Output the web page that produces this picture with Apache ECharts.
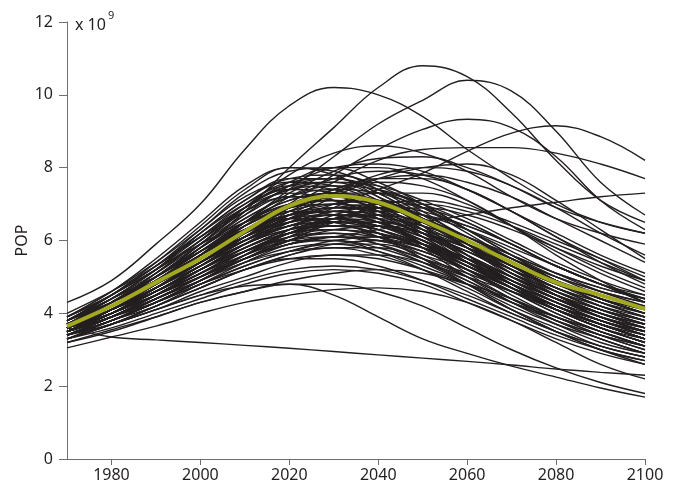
<!DOCTYPE html>
<html>
<head>
<meta charset="utf-8">
<script src="https://cdn.jsdelivr.net/npm/echarts@6/dist/echarts.min.js"></script>
<style>html,body{margin:0;padding:0;background:#fff}#c{width:676px;height:493px}</style>
</head>
<body>
<div id="c"></div>
<script>
const years = [1970,1980,1990,2000,2010,2020,2030,2040,2050,2060,2070,2080,2090,2100];
const xTicks = [1980,2000,2020,2040,2060,2080,2100];
const yTicks = [0,2,4,6,8,10,12];
const meanPop = [3.65,4.2,4.85,5.5,6.25,6.95,7.22,7.05,6.55,6.0,5.4,4.85,4.5,4.12];

const U1 = [3.8,4.3,4.9,5.8,6.8,8.0,9.1,10.2,10.8,10.5,9.5,8.2,7.1,6.5];
const U2 = [4.3,4.9,5.9,7.0,8.5,9.7,10.2,10.0,9.4,8.5,7.7,7.0,6.5,6.2];
const U3 = [3.7,4.2,4.8,5.6,6.5,7.4,8.3,9.2,9.85,10.4,10.1,9.0,7.6,6.7];
const U4 = [3.6,4.1,4.7,5.4,6.2,7.0,7.8,8.5,9.05,9.33,9.1,8.3,7.1,6.3];
const U5 = [3.4,3.8,4.3,4.9,5.6,6.3,6.9,7.4,7.85,8.45,8.95,9.15,8.85,8.2];
const U6 = [3.5,4.0,4.6,5.3,6.1,6.9,7.6,8.2,8.5,8.55,8.55,8.4,8.1,7.7];
const U7 = [3.6,4.0,4.5,5.0,5.5,5.9,6.1,6.3,6.5,6.7,6.9,7.05,7.2,7.3];
const U8 = [3.7,4.3,5.0,5.9,6.9,7.8,8.4,8.6,8.4,7.9,7.2,6.6,6.2,5.9];
const U9 = [3.6,4.1,4.8,5.6,6.5,7.3,7.9,8.25,8.3,8.0,7.5,6.9,6.5,6.2];
const U10 = [3.5,3.9,4.5,5.2,5.9,6.6,7.2,7.7,8.0,8.1,7.8,7.1,6.3,5.5];

const b1 = [3.8,4.5,5.4,6.4,7.4,8.0,7.9,7.4,6.7,5.9,5.1,4.5,4.0,3.6];
const b2 = [3.7,4.4,5.2,6.2,7.1,7.7,7.7,7.3,6.6,5.9,5.2,4.6,4.1,3.7];
const b3 = [3.9,4.6,5.4,6.3,7.2,7.6,7.5,7.0,6.3,5.5,4.8,4.2,3.7,3.3];
const b4 = [3.6,4.3,5.1,6.0,6.9,7.5,7.6,7.2,6.6,5.9,5.3,4.7,4.3,3.9];
const b5 = [3.7,4.3,5.1,6.0,6.9,7.4,7.3,6.8,6.1,5.4,4.7,4.1,3.6,3.2];
const b6 = [3.8,4.5,5.3,6.1,6.9,7.3,7.1,6.6,5.9,5.1,4.4,3.8,3.3,2.9];
const b7 = [3.6,4.2,5.0,5.9,6.8,7.4,7.6,7.5,7.1,6.6,6.0,5.4,4.9,4.5];
const b8 = [3.7,4.3,5.0,5.8,6.6,7.2,7.4,7.3,6.9,6.3,5.7,5.1,4.6,4.2];
const b9 = [3.5,4.1,4.8,5.6,6.5,7.1,7.3,7.0,6.5,5.8,5.1,4.5,4.0,3.6];
const b10 = [3.8,4.4,5.1,5.9,6.7,7.2,7.2,6.8,6.2,5.5,4.8,4.2,3.8,3.4];

const c1 = [3.6,4.1,4.8,5.5,6.2,6.7,6.9,6.8,6.5,6.0,5.5,5.0,4.6,4.3];
const c2 = [3.5,4.0,4.7,5.4,6.1,6.6,6.8,6.6,6.2,5.7,5.1,4.6,4.2,3.9];
const c3 = [3.7,4.2,4.8,5.5,6.1,6.5,6.6,6.4,6.0,5.5,4.9,4.4,3.9,3.5];
const c4 = [3.4,3.9,4.5,5.2,5.9,6.4,6.7,6.7,6.4,6.0,5.5,5.0,4.6,4.3];
const c5 = [3.6,4.2,4.9,5.6,6.3,6.7,6.8,6.5,6.0,5.3,4.7,4.1,3.6,3.2];
const c6 = [3.5,4.1,4.7,5.4,6.0,6.4,6.5,6.3,5.9,5.3,4.7,4.2,3.7,3.3];
const c7 = [3.7,4.3,4.9,5.6,6.3,6.8,7.0,6.9,6.6,6.1,5.6,5.1,4.7,4.4];
const c8 = [3.6,4.1,4.7,5.3,5.9,6.3,6.4,6.2,5.8,5.3,4.8,4.3,3.9,3.6];
const c9 = [3.5,4.0,4.6,5.3,6.0,6.5,6.7,6.6,6.2,5.7,5.1,4.6,4.1,3.7];
const c10 = [3.8,4.4,5.0,5.7,6.3,6.7,6.8,6.6,6.2,5.6,5.0,4.4,3.9,3.5];
const c11 = [3.4,3.9,4.5,5.1,5.8,6.3,6.6,6.7,6.5,6.1,5.6,5.1,4.7,4.4];
const c12 = [3.6,4.1,4.7,5.4,6.1,6.6,6.9,7.0,6.8,6.4,5.9,5.3,4.8,4.4];
const c13 = [3.5,4.0,4.6,5.2,5.8,6.2,6.3,6.1,5.7,5.2,4.6,4.1,3.7,3.4];
const c14 = [3.7,4.2,4.8,5.5,6.2,6.7,6.8,6.5,5.9,5.2,4.5,3.9,3.4,3.0];
const c15 = [3.6,4.2,4.9,5.7,6.4,6.9,7.1,7.0,6.6,6.0,5.3,4.7,4.2,3.8];
const c16 = [3.5,4.1,4.8,5.6,6.3,6.8,7.0,6.8,6.3,5.6,4.9,4.3,3.8,3.4];
const c17 = [3.7,4.3,5.0,5.8,6.5,7.0,7.1,6.9,6.4,5.8,5.1,4.5,4.0,3.7];
const c18 = [3.6,4.1,4.7,5.4,6.0,6.5,6.8,6.9,6.7,6.3,5.8,5.3,4.8,4.5];

const d1 = [3.5,3.9,4.4,5.0,5.6,6.2,6.7,7.0,7.1,6.9,6.5,6.0,5.5,5.0];
const d2 = [3.4,3.8,4.3,4.9,5.5,6.0,6.5,6.8,6.9,6.7,6.3,5.8,5.3,4.9];
const d3 = [3.6,4.0,4.6,5.2,5.9,6.5,7.0,7.3,7.3,7.0,6.4,5.8,5.2,4.7];
const d4 = [3.5,3.9,4.5,5.1,5.7,6.2,6.6,6.8,6.7,6.4,5.9,5.3,4.8,4.3];
const d5 = [3.7,4.2,4.8,5.5,6.2,6.9,7.4,7.7,7.7,7.4,6.8,6.1,5.4,4.8];
const d6 = [3.6,4.1,4.7,5.4,6.1,6.8,7.3,7.6,7.5,7.1,6.4,5.6,4.9,4.3];
const d7 = [3.5,4.0,4.6,5.3,6.0,6.7,7.3,7.8,8.0,7.9,7.5,6.9,6.2,5.6];
const d8 = [3.4,3.8,4.3,4.9,5.5,6.1,6.6,6.9,7.0,6.8,6.4,5.9,5.4,4.9];

const e1 = [3.4,3.8,4.3,4.8,5.3,5.7,5.9,5.9,5.6,5.2,4.7,4.2,3.8,3.4];
const e2 = [3.5,3.9,4.4,4.9,5.4,5.8,5.9,5.7,5.3,4.8,4.2,3.7,3.3,2.9];
const e3 = [3.3,3.7,4.2,4.7,5.2,5.6,5.8,5.8,5.5,5.1,4.6,4.1,3.7,3.3];
const e4 = [3.5,3.9,4.4,4.9,5.4,5.7,5.8,5.6,5.2,4.7,4.1,3.6,3.1,2.8];
const e5 = [3.4,3.8,4.2,4.7,5.2,5.5,5.6,5.5,5.2,4.8,4.3,3.9,3.5,3.1];
const e6 = [3.6,4.0,4.5,5.0,5.5,5.9,6.1,6.0,5.7,5.2,4.7,4.1,3.6,3.2];
const e7 = [3.3,3.7,4.1,4.6,5.0,5.4,5.6,5.6,5.4,5.0,4.6,4.2,3.8,3.5];
const e8 = [3.5,3.9,4.3,4.8,5.2,5.5,5.5,5.3,4.9,4.4,3.9,3.4,3.0,2.7];
const e9 = [3.4,3.8,4.3,4.8,5.3,5.7,6.0,6.1,5.9,5.5,5.0,4.5,4.0,3.6];
const e10 = [3.6,4.1,4.6,5.2,5.8,6.2,6.3,6.1,5.6,5.0,4.4,3.8,3.3,2.9];
const e11 = [3.4,3.9,4.4,5.0,5.6,6.0,6.2,6.1,5.8,5.3,4.8,4.3,3.8,3.4];
const e12 = [3.5,4.0,4.5,5.1,5.7,6.1,6.2,5.9,5.4,4.8,4.1,3.5,3.0,2.6];
const e13 = [3.3,3.7,4.2,4.7,5.2,5.6,5.9,6.0,5.8,5.4,4.9,4.4,4.0,3.7];
const e14 = [3.6,4.0,4.6,5.2,5.7,6.0,6.0,5.7,5.2,4.6,4.0,3.5,3.1,2.8];

const f1 = [3.05,3.35,3.65,4.0,4.3,4.5,4.65,4.7,4.6,4.3,3.8,3.2,2.6,2.2];
const f2 = [3.3,3.7,4.1,4.5,4.75,4.8,4.5,3.9,3.3,2.9,2.55,2.25,1.95,1.7];
const f3 = [3.2,3.55,3.9,4.3,4.6,4.8,4.8,4.6,4.2,3.6,3.0,2.5,2.1,1.8];
const g1 = [3.6,3.35,3.27,3.2,3.12,3.04,2.95,2.86,2.77,2.68,2.58,2.47,2.38,2.3];

const h1 = [3.9,4.5,5.2,5.9,6.5,6.8,6.7,6.2,5.5,4.8,4.1,3.5,3.0,2.7];
const h2 = [4.0,4.6,5.3,6.1,6.8,7.2,7.1,6.6,5.8,5.0,4.3,3.7,3.2,2.9];
const h3 = [3.8,4.4,5.0,5.7,6.3,6.6,6.5,6.1,5.5,4.9,4.3,3.8,3.4,3.1];
const h4 = [3.7,4.2,4.8,5.4,6.0,6.4,6.5,6.3,5.9,5.4,4.9,4.4,4.0,3.7];
const h5 = [3.5,4.0,4.5,5.1,5.7,6.2,6.5,6.6,6.4,6.0,5.4,4.9,4.4,4.0];
const h6 = [3.6,4.1,4.7,5.4,6.1,6.7,7.0,7.1,6.9,6.5,5.9,5.3,4.8,4.3];
const h7 = [3.8,4.3,4.9,5.5,6.1,6.5,6.6,6.4,5.9,5.3,4.7,4.1,3.6,3.2];
const h8 = [3.4,3.9,4.4,5.0,5.6,6.1,6.4,6.4,6.1,5.7,5.2,4.7,4.3,4.0];
const h9 = [3.7,4.2,4.9,5.7,6.5,7.1,7.3,7.1,6.6,5.9,5.2,4.5,3.9,3.5];
const h10 = [3.9,4.5,5.2,6.0,6.8,7.4,7.5,7.1,6.4,5.6,4.8,4.1,3.6,3.2];
const h11 = [3.6,4.0,4.6,5.2,5.8,6.3,6.5,6.4,6.0,5.5,5.0,4.5,4.1,3.8];
const h12 = [3.5,4.0,4.6,5.3,6.0,6.6,6.9,6.9,6.6,6.1,5.5,4.9,4.4,4.0];
const h13 = [3.7,4.3,5.0,5.8,6.6,7.2,7.5,7.4,7.0,6.3,5.6,4.9,4.3,3.9];
const h14 = [3.8,4.3,4.9,5.6,6.2,6.6,6.6,6.3,5.8,5.2,4.6,4.0,3.5,3.1];
const h15 = [3.6,4.2,4.9,5.7,6.4,6.9,7.0,6.7,6.1,5.4,4.7,4.1,3.7,3.3];

const i1 = [3.6,4.1,4.7,5.4,6.2,6.9,7.4,7.7,7.8,7.6,7.2,6.6,6.0,5.4];
const i2 = [3.7,4.3,5.0,5.8,6.7,7.5,8.0,8.1,7.9,7.4,6.8,6.2,5.6,5.1];

const j1 = [3.9,4.6,5.5,6.5,7.5,8.0,7.8,7.2,6.4,5.6,4.9,4.3,3.8,3.5];
const j2 = [3.8,4.5,5.3,6.3,7.3,7.9,8.0,7.6,7.0,6.3,5.6,5.0,4.5,4.1];
const j3 = [3.7,4.4,5.2,6.2,7.1,7.7,7.8,7.5,6.9,6.2,5.5,4.9,4.4,4.0];
const j4 = [3.9,4.5,5.3,6.2,7.0,7.5,7.4,6.9,6.2,5.4,4.7,4.1,3.6,3.3];
const j5 = [3.8,4.4,5.2,6.1,7.0,7.6,7.7,7.3,6.6,5.8,5.0,4.4,3.9,3.5];
const j6 = [3.6,4.2,5.0,5.9,6.9,7.6,8.0,8.0,7.7,7.1,6.4,5.7,5.1,4.6];
const j7 = [3.5,4.0,4.7,5.5,6.4,7.2,7.7,7.9,7.8,7.4,6.8,6.1,5.5,4.9];
const j8 = [3.7,4.3,5.1,6.0,6.9,7.5,7.7,7.4,6.8,6.0,5.3,4.6,4.1,3.7];
const j9 = [3.6,4.1,4.8,5.6,6.4,7.0,7.3,7.3,7.0,6.5,5.9,5.3,4.8,4.4];
const j10 = [3.5,4.0,4.7,5.5,6.3,6.9,7.2,7.1,6.7,6.1,5.5,4.9,4.4,4.0];

const k1 = [3.4,3.8,4.4,5.0,5.7,6.2,6.4,6.3,5.9,5.4,4.8,4.3,3.8,3.5];
const k2 = [3.5,3.9,4.5,5.1,5.7,6.1,6.3,6.2,5.9,5.4,4.9,4.4,4.0,3.6];
const k3 = [3.3,3.7,4.2,4.8,5.4,5.9,6.1,6.1,5.9,5.5,5.0,4.5,4.1,3.8];
const k4 = [3.6,4.1,4.6,5.2,5.8,6.3,6.5,6.5,6.2,5.8,5.3,4.8,4.4,4.1];
const k5 = [3.5,4.0,4.6,5.3,5.9,6.4,6.6,6.5,6.1,5.6,5.0,4.4,3.9,3.6];
const k6 = [3.4,3.9,4.5,5.1,5.7,6.2,6.5,6.5,6.3,5.9,5.4,4.9,4.5,4.2];
const k7 = [3.7,4.2,4.8,5.5,6.1,6.6,6.7,6.5,6.0,5.4,4.8,4.2,3.7,3.3];
const k8 = [3.6,4.1,4.7,5.3,5.9,6.3,6.4,6.2,5.8,5.2,4.6,4.0,3.5,3.1];
const k9 = [3.4,3.8,4.3,4.9,5.5,6.0,6.3,6.4,6.2,5.8,5.3,4.8,4.3,3.9];
const k10 = [3.5,4.0,4.5,5.1,5.6,6.0,6.1,5.9,5.5,5.0,4.4,3.9,3.4,3.0];
const k11 = [3.3,3.8,4.3,4.9,5.5,5.9,6.1,6.0,5.7,5.2,4.7,4.2,3.8,3.4];
const k12 = [3.6,4.1,4.7,5.4,6.1,6.6,6.8,6.7,6.3,5.8,5.2,4.7,4.2,3.8];
const k13 = [3.5,3.9,4.4,5.0,5.5,5.9,6.0,5.8,5.4,4.9,4.3,3.8,3.4,3.1];
const k14 = [3.4,3.9,4.5,5.2,5.9,6.4,6.6,6.4,6.0,5.4,4.8,4.2,3.7,3.3];
const k15 = [3.7,4.2,4.9,5.7,6.5,7.0,7.2,7.0,6.5,5.9,5.3,4.7,4.2,3.8];

const m1 = [3.3,3.6,4.0,4.4,4.8,5.1,5.2,5.1,4.8,4.3,3.8,3.3,2.9,2.6];
const m2 = [3.4,3.7,4.1,4.5,4.9,5.2,5.3,5.2,4.9,4.5,4.0,3.5,3.1,2.8];
const m3 = [3.2,3.5,3.9,4.3,4.6,4.9,5.1,5.2,5.1,4.8,4.4,3.9,3.5,3.1];

const runs = [U1,U2,U3,U4,U5,U6,U7,U8,U9,U10,
  b1,b2,b3,b4,b5,b6,b7,b8,b9,b10,
  c1,c2,c3,c4,c5,c6,c7,c8,c9,c10,c11,c12,c13,c14,c15,c16,c17,c18,
  d1,d2,d3,d4,d5,d6,d7,d8,
  e1,e2,e3,e4,e5,e6,e7,e8,e9,e10,e11,e12,e13,e14,
  f1,f2,f3,g1,
  h1,h2,h3,h4,h5,h6,h7,h8,h9,h10,h11,h12,h13,h14,h15,i1,i2,
  j1,j2,j3,j4,j5,j6,j7,j8,j9,j10,
  k1,k2,k3,k4,k5,k6,k7,k8,k9,k10,k11,k12,k13,k14,k15,
  m1,m2,m3];

const toPts = arr => years.map((y,i)=>[y,arr[i]]);
const series = runs.map(r => ({
  type:'line', data: toPts(r), smooth:0.4, symbol:'none',
  lineStyle:{color:'#231f20', width:1.4}, silent:true, animation:false
}));
series.push({type:'line', data: toPts(meanPop), smooth:0.4, symbol:'none',
  lineStyle:{color:'#a2a81f', width:4}, z:5, silent:true, animation:false});

const axisCol = '#6d6e71';
const font = 'Noto Sans';
const chart = echarts.init(document.getElementById('c'), null, {renderer:'canvas'});
chart.setOption({
  animation:false,
  backgroundColor:'#fff',
  grid:{left:67, right:31, top:22, bottom:34, containLabel:false, outerBoundsMode:'none'},
  xAxis:{type:'value', min:1970, max:2100,
    axisLine:{show:true, onZero:false, lineStyle:{color:axisCol, width:1}},
    axisTick:{show:true, length:6, customValues:xTicks, lineStyle:{color:axisCol}},
    axisLabel:{customValues:xTicks, formatter: v => String(v), color:'#231f20', fontSize:16, fontFamily:font, margin:8},
    splitLine:{show:false}},
  yAxis:{type:'value', min:0, max:12, interval:2,
    name:'POP', nameLocation:'middle', nameGap:37, nameRotate:90, nameMoveOverlap:false,
    nameTextStyle:{color:'#231f20', fontSize:16, fontFamily:font},
    axisLine:{show:true, lineStyle:{color:axisCol, width:1}},
    axisTick:{show:true, length:8, lineStyle:{color:axisCol}},
    axisLabel:{color:'#231f20', fontSize:16, fontFamily:font, margin:14},
    splitLine:{show:false}},
  graphic:[{type:'text', left:75, top:10, style:{
    text:'{a|x 10}{b|9}', rich:{
      a:{fontSize:16, fontFamily:font, fill:'#231f20', verticalAlign:'bottom'},
      b:{fontSize:11, fontFamily:font, fill:'#231f20', padding:[0,0,12,2], verticalAlign:'top'}
    }}}],
  series: series
});
</script>
</body>
</html>
